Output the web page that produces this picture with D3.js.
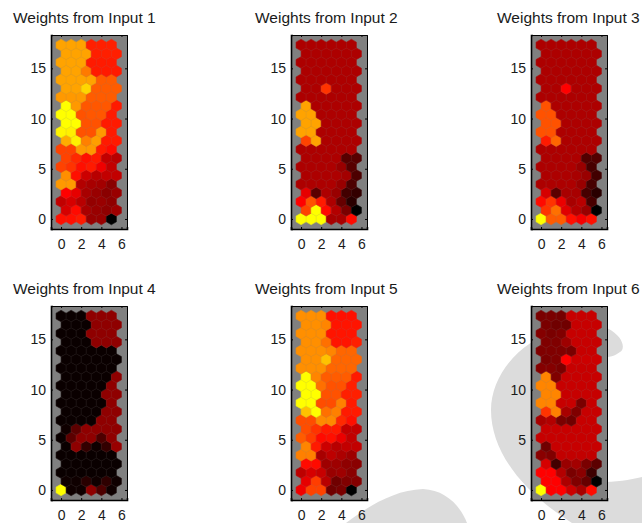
<!DOCTYPE html>
<html>
<head>
<meta charset="utf-8">
<script src="https://cdn.jsdelivr.net/npm/d3@7"></script>
<style>
  body { margin: 0; background: #fff; }
  svg { display: block; font-family: "Liberation Sans", Arial, sans-serif; }
</style>
</head>
<body>
<div id="chart-area"></div>
<script>
// weights per hex cell, normalised 0..1, rows bottom to top, six cells per row
const input1 = [
  [.53,.53,.55,.30,.30,.00],[.42,.52,.33,.30,.28,.31],[.38,.42,.36,.29,.30,.28],
  [.50,.45,.33,.30,.27,.30],[.80,.80,.35,.33,.32,.27],[.78,.53,.40,.36,.38,.38],
  [.63,.60,.53,.55,.47,.38],[.63,.58,.53,.55,.38,.36],[.63,.63,.80,.80,.55,.52],
  [.84,.97,.75,.81,.55,.55],[.98,.97,.66,.66,.80,.55],[1.0,1.0,.66,.66,.55,.55],
  [1.0,1.0,.66,.67,.67,.55],[1.0,.80,.67,.67,.67,.55],[.80,.80,.80,.68,.68,.68],
  [.82,.82,.92,.68,.68,.68],[.82,.82,.82,.82,.68,.68],[.82,.82,.74,.55,.55,.55],
  [.82,.82,.82,.55,.55,.55],[.82,.82,.82,.56,.56,.56],[.82,.82,.82,.56,.56,.56]
]
const input2 = [
  [1.0,1.0,1.0,.33,.33,.52],[.63,1.0,.52,.35,.24,.00],[.50,.66,.55,.34,.20,.08],
  [.45,.18,.34,.30,.13,.10],[.34,.34,.34,.34,.30,.15],[.34,.34,.34,.34,.32,.15],
  [.34,.34,.34,.34,.30,.17],[.34,.34,.34,.34,.17,.17],[.34,.34,.34,.34,.34,.34],
  [.63,.82,.34,.34,.34,.34],[.82,.82,.34,.34,.34,.34],[.82,.82,.34,.34,.34,.34],
  [.82,.82,.34,.34,.34,.34],[.82,.34,.34,.34,.34,.34],[.34,.34,.34,.34,.34,.34],
  [.34,.34,.60,.34,.34,.34],[.34,.34,.34,.34,.34,.34],[.34,.34,.34,.34,.34,.34],
  [.34,.34,.34,.34,.34,.34],[.34,.34,.34,.34,.34,.34],[.34,.34,.34,.34,.34,.34]
]
const input3 = [
  [1.0,.68,.68,.53,.48,.53],[.60,.72,.44,.35,.30,.00],[.52,.60,.46,.33,.36,.14],
  [.42,.18,.33,.33,.14,.08],[.34,.34,.34,.34,.30,.14],[.34,.34,.34,.33,.30,.13],
  [.34,.34,.34,.34,.30,.14],[.34,.34,.34,.34,.16,.16],[.34,.34,.34,.34,.34,.34],
  [.55,.70,.34,.34,.34,.34],[.66,.66,.34,.34,.34,.34],[.66,.66,.34,.34,.34,.34],
  [.66,.66,.34,.34,.34,.34],[.66,.34,.34,.34,.34,.34],[.34,.34,.34,.34,.34,.34],
  [.34,.34,.50,.34,.34,.34],[.34,.34,.34,.34,.34,.34],[.34,.34,.34,.34,.34,.34],
  [.34,.34,.34,.34,.34,.34],[.34,.34,.34,.34,.34,.34],[.34,.34,.34,.34,.34,.34]
]
const input4 = [
  [1.0,.03,.03,.28,.15,.03],[.03,.03,.08,.03,.09,.03],[.02,.02,.02,.02,.02,.02],
  [.02,.02,.02,.02,.02,.02],[.02,.02,.02,.02,.02,.02],[.02,.28,.10,.03,.10,.30],
  [.02,.18,.28,.28,.15,.28],[.03,.18,.28,.28,.28,.28],[.02,.02,.02,.02,.28,.28],
  [.02,.02,.02,.02,.28,.28],[.02,.02,.02,.02,.02,.28],[.02,.02,.02,.02,.28,.28],
  [.02,.02,.02,.02,.02,.28],[.02,.02,.02,.02,.02,.28],[.02,.02,.02,.02,.02,.02],
  [.02,.02,.02,.02,.02,.02],[.02,.02,.02,.02,.02,.02],[.02,.02,.02,.28,.28,.28],
  [.02,.02,.02,.28,.28,.28],[.02,.02,.02,.28,.28,.28],[.02,.02,.02,.28,.28,.28]
]
const input5 = [
  [.47,.63,.63,.22,.24,.00],[.45,.62,.36,.22,.25,.26],[.37,.42,.39,.30,.31,.27],
  [.52,.52,.31,.31,.28,.27],[.75,.75,.33,.37,.34,.31],[.76,.55,.40,.36,.38,.38],
  [.68,.62,.52,.53,.46,.38],[.65,.60,.55,.55,.38,.38],[.65,.65,.77,.77,.58,.53],
  [.88,1.0,.72,.75,.55,.55],[1.0,1.0,.65,.65,.75,.55],[1.0,1.0,.66,.66,.56,.56],
  [1.0,1.0,.72,.66,.66,.56],[1.0,.76,.68,.68,.68,.55],[.78,.78,.78,.70,.70,.70],
  [.78,.78,.88,.70,.70,.70],[.78,.78,.78,.76,.70,.70],[.78,.78,.72,.54,.54,.56],
  [.78,.78,.78,.54,.54,.54],[.78,.78,.76,.54,.54,.54],[.78,.78,.78,.53,.53,.53]
]
const input6 = [
  [1.0,.50,.50,.40,.33,.52],[.50,.50,.34,.25,.20,.00],[.50,.50,.35,.24,.27,.12],
  [.42,.13,.30,.32,.24,.18],[.27,.25,.38,.38,.38,.38],[.22,.39,.39,.39,.39,.39],
  [.39,.39,.39,.39,.39,.39],[.39,.39,.39,.39,.39,.39],[.33,.35,.24,.22,.39,.39],
  [.60,.75,.33,.25,.39,.39],[.76,.76,.39,.39,.24,.39],[.76,.76,.39,.39,.39,.39],
  [.76,.76,.39,.39,.39,.39],[.76,.25,.39,.39,.39,.39],[.26,.26,.24,.39,.39,.39],
  [.24,.25,.50,.40,.40,.40],[.25,.25,.25,.24,.39,.39],[.25,.25,.31,.39,.39,.39],
  [.26,.24,.25,.39,.39,.39],[.24,.22,.22,.39,.39,.39],[.24,.24,.23,.39,.39,.39]
]

const inputs = [input1, input2, input3, input4, input5, input6]
const titles = ["Weights from Input 1", "Weights from Input 2", "Weights from Input 3",
                "Weights from Input 4", "Weights from Input 5", "Weights from Input 6"]
const xTicks = [0, 2, 4, 6]
const yTicks = [0, 5, 10, 15]

const WIDTH = 642
const HEIGHT = 523
const PANEL_LEFT = [51, 291, 531]
const PANEL_TOP = [35, 306]
const PANEL_W = 76
const PANEL_H = 194
const TITLE_LEFT = [13, 255, 497]
const TITLE_BASE = [23, 294]

const svg = d3.select("#chart-area").append("svg")
  .attr("width", WIDTH)
  .attr("height", HEIGHT)

svg.append("rect")
  .attr("width", WIDTH)
  .attr("height", HEIGHT)
  .attr("fill", "#fff")

// pale logo shapes behind the plots
svg.append("path")
  .attr("fill", "#dcdcdc")
  .attr("d", "M607,328 C625,337 625,350 620,352 C615,356 610,357 600,358 L600,482 C615,482 630,480 642,477 L642,523 L572,523 C520,490 491,450 491,410 C491,375 520,340 560,330 C575,325 595,323 607,328 Z")
svg.append("path")
  .attr("fill", "#dcdcdc")
  .attr("d", "M346,523 C370,505 395,490 423,489 C445,490 460,505 467,523 Z")

// black > red > yellow, same ramp the planes plot uses
const color = d3.scaleLinear().domain([0, 0.5, 1]).range(["#000000", "#ff0000", "#ffff00"])

const hexAngles = d3.range(6).map(i => Math.PI / 6 + i * Math.PI / 3)
const hexRadius = 1 / Math.sqrt(3)
const rowStep = Math.sqrt(3) / 2

inputs.forEach((rows, idx) => {
  const col = idx % 3
  const row = Math.floor(idx / 3)

  const g = svg.append("g")
    .attr("transform", `translate(${PANEL_LEFT[col]}, ${PANEL_TOP[row]})`)

  const x = d3.scaleLinear().domain([-1, 6.55]).range([0, PANEL_W])
  const y = d3.scaleLinear().domain([-1, 18.32]).range([PANEL_H, 0])

  g.append("rect")
    .attr("width", PANEL_W)
    .attr("height", PANEL_H)
    .attr("fill", "#808080")

  const cells = []
  rows.forEach((vals, r) => {
    vals.forEach((v, c) => {
      cells.push({ cx: c + (r % 2) * 0.5, cy: r * rowStep, v: v })
    })
  })

  const hex = d3.line()
    .x(a => a.px)
    .y(a => a.py)
    .curve(d3.curveLinearClosed)

  // outline is only a faint gray tint of the fill
  g.selectAll("path.cell")
    .data(cells)
    .enter().append("path")
    .attr("class", "cell")
    .attr("fill", d => color(d.v))
    .attr("stroke", d => d3.interpolateRgb(color(d.v), "#808080")(0.15))
    .attr("stroke-width", 0.6)
    .attr("d", d => hex(hexAngles.map(a => ({
      px: x(d.cx + hexRadius * Math.cos(a)),
      py: y(d.cy + hexRadius * Math.sin(a))
    }))))

  // axes, ticks point inwards on all four sides
  const bottom = g.append("g").attr("transform", `translate(0, ${PANEL_H})`)
    .call(d3.axisBottom(x).tickValues(xTicks).tickSize(-2).tickPadding(10))
  const left = g.append("g")
    .call(d3.axisLeft(y).tickValues(yTicks).tickSize(-2).tickPadding(5))
  const top = g.append("g")
    .call(d3.axisTop(x).tickValues(xTicks).tickSize(-2).tickFormat(""))
  const right = g.append("g").attr("transform", `translate(${PANEL_W}, 0)`)
    .call(d3.axisRight(y).tickValues(yTicks).tickSize(-2).tickFormat(""))

  ;[bottom, left, top, right].forEach(a => {
    a.attr("font-family", null).attr("font-size", null)
    a.selectAll("text").attr("fill", "#1a1a1a").style("font-size", "14px")
    a.selectAll("line").attr("stroke", "#000")
  })
  ;[bottom, left].forEach(a => a.select(".domain").attr("stroke-width", 1.6).attr("stroke", "#000"))
  ;[top, right].forEach(a => a.select(".domain").attr("stroke-width", 1).attr("stroke", "#000"))

  svg.append("text")
    .attr("x", TITLE_LEFT[col])
    .attr("y", TITLE_BASE[row])
    .attr("fill", "#1a1a1a")
    .style("font-size", "15.5px")
    .text(titles[idx])
})
</script>
</body>
</html>
